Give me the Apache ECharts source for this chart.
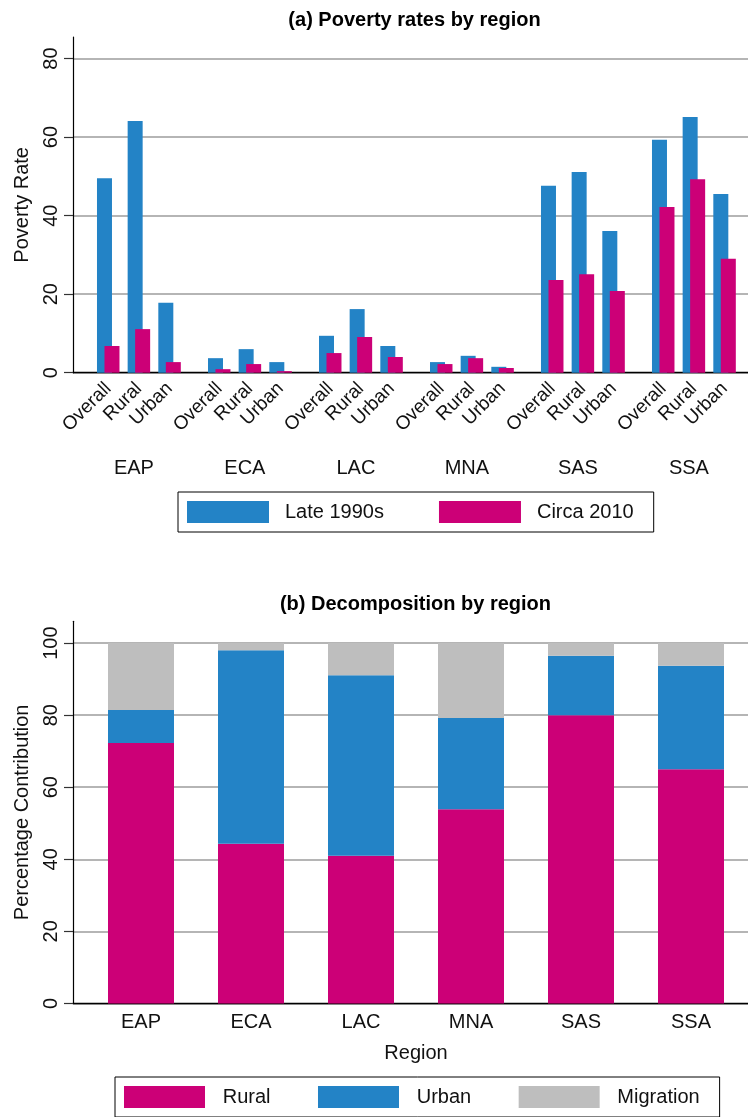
<!DOCTYPE html>
<html>
<head>
<meta charset="utf-8">
<script src="https://cdn.jsdelivr.net/npm/echarts@6/dist/echarts.min.js"></script>
<style>
  html, body { margin: 0; padding: 0; background: #ffffff; }
  #chart { width: 748px; height: 1117px; }
</style>
</head>
<body>
<div id="chart"></div>
<script>
// Regions and sub-populations
const regions = ['EAP', 'ECA', 'LAC', 'MNA', 'SAS', 'SSA'];
const areas = ['Overall', 'Rural', 'Urban'];

// (a) Poverty rates, three values (Overall, Rural, Urban) per region
const late1990s = [49.5, 64.1, 17.8,  3.7, 6.0, 2.7,  9.4, 16.2, 6.8,  2.7, 4.3, 1.5,  47.6, 51.1, 36.1,  59.3, 65.1, 45.5];
const circa2010 = [6.8, 11.1, 2.7,  0.9, 2.2, 0.4,  5.0, 9.1, 4.0,  2.2, 3.7, 1.2,  23.6, 25.1, 20.8,  42.2, 49.3, 29.0];
const rateTicks = [0, 20, 40, 60, 80];

// (b) Decomposition of poverty change, percentage contribution
const ruralShare = [72.3, 44.3, 41.0, 53.9, 80.0, 65.0];
const urbanShare = [9.1, 53.7, 50.1, 25.3, 16.5, 28.7];
const migrationShare = [18.6, 2.0, 8.9, 20.8, 3.5, 6.3];
const shareTicks = [0, 20, 40, 60, 80, 100];

const BLUE = '#2383c6';
const PINK = '#cc0077';
const GRAY = '#bebebe';
const FONT = '"Liberation Sans", Arial, Helvetica, sans-serif';
const INK = '#111111';

// panel geometry
const A = { top: 37, height: 335.7, max: 85.5 };
const B = { top: 621.3, height: 382.1, max: 106.05 };
const groupLeft0 = 92.9, groupStep = 111, groupWidth = 92;

function valueAxis(gridIndex, panel, ticks, name) {
  return {
    gridIndex, type: 'value', min: 0, max: panel.max, interval: 20,
    name, nameLocation: 'middle', nameGap: 41,
    nameTextStyle: { fontSize: 20, color: INK, fontFamily: FONT },
    axisLine: { show: true, lineStyle: { color: '#000', width: 1.2 } },
    axisTick: { show: true, length: 9, customValues: ticks, lineStyle: { color: '#333', width: 1.2 } },
    axisLabel: { rotate: 90, margin: 12, fontSize: 20, color: INK, fontFamily: FONT, customValues: ticks },
    splitLine: { show: true, lineStyle: { color: '#9c9c9c', width: 1.5 } }
  };
}
function baseAxis(gridIndex) {
  return {
    gridIndex, type: 'category', data: [''],
    axisLine: { show: true, lineStyle: { color: '#000', width: 1.4 } },
    axisTick: { show: false }, axisLabel: { show: false }, splitLine: { show: false }
  };
}
function hiddenY(gridIndex, panel) {
  return { gridIndex, type: 'value', min: 0, max: panel.max, show: false, splitLine: { show: false } };
}

const grid = [{ left: 73, top: A.top, width: 675, height: A.height }];
const xAxis = [baseAxis(0)];
const yAxis = [valueAxis(0, A, rateTicks, 'Poverty Rate')];
const series = [];

regions.forEach((r, g) => {
  const idx = g + 1;
  grid.push({ left: groupLeft0 + groupStep * g, top: A.top, width: groupWidth, height: A.height });
  xAxis.push({
    gridIndex: idx, type: 'category', data: areas,
    axisLine: { show: false }, axisTick: { show: false },
    axisLabel: { rotate: 45, interval: 0, margin: 13, fontSize: 19, color: INK, fontFamily: FONT },
    name: r, nameLocation: 'middle', nameGap: 86,
    nameTextStyle: { fontSize: 20, color: INK, fontFamily: FONT, padding: [0, 10, 0, 0] }
  });
  yAxis.push(hiddenY(idx, A));
  series.push({
    type: 'bar', name: 'Late 1990s', xAxisIndex: idx, yAxisIndex: idx,
    data: late1990s.slice(3 * g, 3 * g + 3), barWidth: 15, barGap: '-50%',
    itemStyle: { color: BLUE }
  });
  series.push({
    type: 'bar', name: 'Circa 2010', xAxisIndex: idx, yAxisIndex: idx,
    data: circa2010.slice(3 * g, 3 * g + 3), barWidth: 15, barGap: '-50%',
    itemStyle: { color: PINK }
  });
});

// panel (b)
grid.push({ left: 73, top: B.top, width: 675, height: B.height });
xAxis.push(baseAxis(7));
yAxis.push(valueAxis(7, B, shareTicks, 'Percentage Contribution'));

grid.push({ left: 86, top: B.top, width: 660, height: B.height });
xAxis.push({
  gridIndex: 8, type: 'category', data: regions,
  axisLine: { show: false }, axisTick: { show: false },
  axisLabel: { margin: 9, fontSize: 20, color: INK, fontFamily: FONT },
  name: 'Region', nameLocation: 'middle', nameGap: 40,
  nameTextStyle: { fontSize: 20, color: INK, fontFamily: FONT }
});
yAxis.push(hiddenY(8, B));

[['Rural', ruralShare, PINK], ['Urban', urbanShare, BLUE], ['Migration', migrationShare, GRAY]]
  .forEach(([name, data, color]) => {
    series.push({
      type: 'bar', name, stack: 'total', xAxisIndex: 8, yAxisIndex: 8,
      data, barWidth: 66, itemStyle: { color }
    });
  });

const legendBase = {
  orient: 'horizontal', icon: 'rect', selectedMode: false,
  itemHeight: 22, padding: [9, 20, 9, 9],
  borderColor: '#000', borderWidth: 1,
  textStyle: { fontSize: 20, color: INK, fontFamily: FONT, lineHeight: 22 }
};

const option = {
  animation: false,
  backgroundColor: '#ffffff',
  textStyle: { fontFamily: FONT },
  title: [
    { text: '(a) Poverty rates by region', left: 414.5, top: 10, textAlign: 'center', padding: 0,
      textStyle: { fontSize: 20, fontWeight: 'bold', color: '#000', fontFamily: FONT } },
    { text: '(b) Decomposition by region', left: 415.5, top: 594, textAlign: 'center', padding: 0,
      textStyle: { fontSize: 20, fontWeight: 'bold', color: '#000', fontFamily: FONT } }
  ],
  legend: [
    Object.assign({}, legendBase, {
      data: ['Late 1990s', 'Circa 2010'], left: 178, top: 492,
      itemWidth: 82, itemGap: 55,
      textStyle: Object.assign({}, legendBase.textStyle, { padding: [0, 0, 0, 11] })
    }),
    Object.assign({}, legendBase, {
      data: ['Rural', 'Urban', 'Migration'], left: 115, top: 1077,
      itemWidth: 81, itemGap: 47.5,
      textStyle: Object.assign({}, legendBase.textStyle, { padding: [0, 0, 0, 12.7] })
    })
  ],
  grid, xAxis, yAxis, series
};

const chart = echarts.init(document.getElementById('chart'), null, { renderer: 'canvas' });
chart.setOption(option);
</script>
</body>
</html>
